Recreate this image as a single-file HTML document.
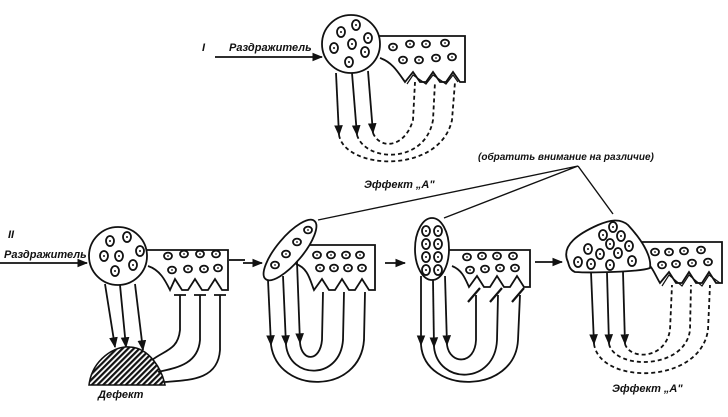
<!DOCTYPE html>
<html><head><meta charset="utf-8"><style>
html,body{margin:0;padding:0;background:#fff;width:728px;height:417px;overflow:hidden}
svg text{font-family:"Liberation Sans",sans-serif;font-style:italic;font-weight:bold;fill:#111}
</style></head><body>
<svg width="728" height="417" viewBox="0 0 728 417" xmlns="http://www.w3.org/2000/svg">
<defs>
<marker id="ar" viewBox="0 0 10 10" refX="9" refY="5" markerWidth="6" markerHeight="6" orient="auto"><path d="M0,1 L10,5 L0,9 z" fill="#111"/></marker>
<pattern id="hatch" width="4" height="4" patternUnits="userSpaceOnUse" patternTransform="rotate(45)"><rect width="4" height="4" fill="#fff"/><rect width="2.2" height="4" fill="#111"/></pattern>
<g id="cell"><ellipse cx="0" cy="0" rx="4" ry="3.4" fill="none" stroke="#111" stroke-width="1.8"/><circle r="0.9" fill="#111"/></g>
<g id="bcell"><ellipse cx="0" cy="0" rx="4" ry="5" fill="none" stroke="#111" stroke-width="1.8"/><circle r="1" fill="#111"/></g>
</defs>
<g fill="none" stroke="#111" stroke-width="1.8">

<!-- ===== I ===== -->
<line x1="215" y1="57" x2="322" y2="57" marker-end="url(#ar)"/>
<path d="M378,36 L465,36 L465,82 L460,82 L453,72 L446,82 L440,82 L433,72 L426,82 L420,82 L413,72 L405,82 C398,72 392,62 380,58"/>
<path d="M458,82 L453,75 L446,84 L433,75 L426,84 L413,75 L407,84" stroke-width="1.2"/>
<circle cx="351" cy="44" r="29" fill="#fff"/>
<line x1="336" y1="73" x2="339" y2="135" marker-end="url(#ar)"/>
<line x1="352" y1="73" x2="357" y2="135" marker-end="url(#ar)"/>
<line x1="368" y1="71" x2="373" y2="133" marker-end="url(#ar)"/>
<g stroke-dasharray="4,3">
<path d="M339,135 C345,170 440,175 452,120 L455,82"/>
<path d="M357,135 C365,162 425,165 433,120 L435,82"/>
<path d="M373,133 C380,150 405,148 413,120 L415,82"/>
</g>

<path d="M578,166 L318,220 M578,166 L444,218 M578,166 L613,214" stroke-width="1.4"/>

<!-- ===== II-1 ===== -->
<line x1="0" y1="263" x2="87" y2="263" marker-end="url(#ar)"/>
<path d="M145,250 L228,250 L228,290 L222,290 L215,279 L208,290 L202,290 L195,279 L188,290 L182,290 L175,279 L170,290 C165,280 160,270 148,266"/>
<line x1="229" y1="260" x2="245" y2="260"/>
<circle cx="118" cy="256" r="29" fill="#fff"/>
<line x1="105" y1="284" x2="115" y2="347" marker-end="url(#ar)"/>
<line x1="120" y1="285" x2="126" y2="347" marker-end="url(#ar)"/>
<line x1="135" y1="284" x2="143" y2="350" marker-end="url(#ar)"/>
<path d="M89,385 C92,360 115,345 130,347 C150,348 162,370 165,385 Z" fill="url(#hatch)" stroke-width="1.5"/>
<g stroke-width="1.8">
<path d="M180,295 L180,330 C178,350 165,350 152,360"/>
<path d="M200,295 L200,340 C198,365 175,368 158,372"/>
<path d="M220,295 L220,350 C218,380 190,380 165,382"/>
</g>
<path d="M174,295 L186,295 M194,295 L206,295 M214,295 L226,295"/>

<!-- ===== II-2 ===== -->
<line x1="243" y1="263" x2="262" y2="263" marker-end="url(#ar)"/>
<path d="M300,245 L375,245 L375,290 L369,290 L362,279 L355,290 L349,290 L342,279 L335,290 L329,290 L322,279 L314,290 C310,280 308,268 296,264"/>
<ellipse cx="290" cy="250" rx="38" ry="13" transform="rotate(-50 290 250)" fill="#fff"/>
<line x1="268" y1="280" x2="271" y2="345" marker-end="url(#ar)"/>
<line x1="283" y1="276" x2="286" y2="345" marker-end="url(#ar)"/>
<line x1="297" y1="262" x2="300" y2="343" marker-end="url(#ar)"/>
<g>
<path d="M271,345 C278,395 360,395 364,340 L365,292"/>
<path d="M286,345 C290,380 340,380 343,340 L344,292"/>
<path d="M300,343 C302,362 320,362 322,340 L323,292"/>
</g>
<line x1="385" y1="263" x2="405" y2="263" marker-end="url(#ar)"/>

<!-- ===== II-3 ===== -->
<path d="M448,250 L530,250 L530,287 L524,287 L517,276 L510,287 L504,287 L497,276 L490,287 L484,287 L477,276 L469,287 C465,278 462,270 452,266"/>
<ellipse cx="432" cy="249" rx="17" ry="31" fill="#fff"/>
<line x1="421" y1="276" x2="421" y2="345" marker-end="url(#ar)"/>
<line x1="433" y1="280" x2="434" y2="347" marker-end="url(#ar)"/>
<line x1="445" y1="276" x2="447" y2="345" marker-end="url(#ar)"/>
<g>
<path d="M421,345 C425,395 515,395 518,340 L520,295"/>
<path d="M434,347 C438,385 495,385 497,340 L498,295"/>
<path d="M447,345 C450,365 475,365 476,340 L476,295"/>
</g>
<path d="M468,302 L480,288 M490,302 L502,288 M512,302 L524,288" stroke-width="2.2"/>
<line x1="535" y1="262" x2="562" y2="262" marker-end="url(#ar)"/>

<!-- ===== II-4 ===== -->
<path d="M640,242 L722,242 L722,283 L716,283 L709,272 L702,283 L696,283 L689,272 L682,283 L676,283 L669,272 L660,283 C655,275 652,265 645,262"/>
<path d="M720,283 L709,275 L702,286 L689,275 L682,286 L669,275 L662,286" stroke-width="1.2"/>
<path d="M568,262 C560,245 580,233 598,225 C610,220 620,218 628,225 C640,238 652,255 650,268 C640,272 590,273 575,272 C570,270 569,266 568,262 Z" fill="#fff"/>
<line x1="591" y1="272" x2="594" y2="344" marker-end="url(#ar)"/>
<line x1="607" y1="273" x2="609" y2="344" marker-end="url(#ar)"/>
<line x1="623" y1="272" x2="625" y2="344" marker-end="url(#ar)"/>
<g stroke-dasharray="4,3">
<path d="M594,344 C600,385 700,385 708,330 L710,285"/>
<path d="M609,344 C615,370 685,370 690,330 L691,285"/>
<path d="M625,344 C630,360 665,360 670,330 L672,285"/>
</g>
</g>

<g>
<use href="#bcell" x="341" y="32"/><use href="#bcell" x="356" y="25"/><use href="#bcell" x="368" y="38"/>
<use href="#bcell" x="334" y="48"/><use href="#bcell" x="352" y="44"/><use href="#bcell" x="365" y="52"/><use href="#bcell" x="349" y="62"/>
<use href="#cell" x="393" y="47"/><use href="#cell" x="410" y="44"/><use href="#cell" x="426" y="44"/><use href="#cell" x="445" y="43"/>
<use href="#cell" x="403" y="60"/><use href="#cell" x="419" y="60"/><use href="#cell" x="436" y="58"/><use href="#cell" x="452" y="57"/>

<use href="#bcell" x="110" y="241"/><use href="#bcell" x="127" y="237"/><use href="#bcell" x="140" y="251"/>
<use href="#bcell" x="104" y="256"/><use href="#bcell" x="119" y="256"/><use href="#bcell" x="133" y="265"/><use href="#bcell" x="115" y="271"/>
<use href="#cell" x="168" y="256"/><use href="#cell" x="184" y="254"/><use href="#cell" x="200" y="254"/><use href="#cell" x="216" y="254"/>
<use href="#cell" x="172" y="270"/><use href="#cell" x="188" y="269"/><use href="#cell" x="204" y="269"/><use href="#cell" x="218" y="268"/>

<use href="#cell" x="275" y="265"/><use href="#cell" x="286" y="254"/><use href="#cell" x="297" y="242"/><use href="#cell" x="308" y="230"/>
<use href="#cell" x="317" y="255"/><use href="#cell" x="331" y="255"/><use href="#cell" x="346" y="255"/><use href="#cell" x="360" y="255"/>
<use href="#cell" x="320" y="268"/><use href="#cell" x="334" y="268"/><use href="#cell" x="348" y="268"/><use href="#cell" x="362" y="268"/>

<use href="#bcell" x="426" y="231"/><use href="#bcell" x="438" y="231"/><use href="#bcell" x="426" y="244"/><use href="#bcell" x="438" y="244"/>
<use href="#bcell" x="426" y="257"/><use href="#bcell" x="438" y="257"/><use href="#bcell" x="426" y="270"/><use href="#bcell" x="438" y="270"/>
<use href="#cell" x="467" y="257"/><use href="#cell" x="482" y="256"/><use href="#cell" x="497" y="256"/><use href="#cell" x="513" y="256"/>
<use href="#cell" x="470" y="270"/><use href="#cell" x="485" y="269"/><use href="#cell" x="500" y="268"/><use href="#cell" x="515" y="268"/>

<use href="#bcell" x="603" y="235"/><use href="#bcell" x="613" y="227"/><use href="#bcell" x="621" y="236"/><use href="#bcell" x="629" y="246"/>
<use href="#bcell" x="588" y="249"/><use href="#bcell" x="600" y="254"/><use href="#bcell" x="610" y="244"/><use href="#bcell" x="618" y="253"/>
<use href="#bcell" x="578" y="262"/><use href="#bcell" x="591" y="264"/><use href="#bcell" x="610" y="265"/><use href="#bcell" x="632" y="261"/>
<use href="#cell" x="655" y="252"/><use href="#cell" x="669" y="252"/><use href="#cell" x="684" y="251"/><use href="#cell" x="701" y="250"/>
<use href="#cell" x="662" y="265"/><use href="#cell" x="676" y="264"/><use href="#cell" x="692" y="263"/><use href="#cell" x="708" y="262"/>
</g>

<text x="202" y="51" font-size="11">I</text>
<text x="229" y="51" font-size="11">Раздражитель</text>
<text x="364" y="188" font-size="11">Эффект „А"</text>
<text x="478" y="160" font-size="10">(обратить внимание на различие)</text>
<text x="8" y="238" font-size="11">II</text>
<text x="4" y="258" font-size="11">Раздражитель</text>
<text x="98" y="398" font-size="11">Дефект</text>
<text x="612" y="392" font-size="11">Эффект „А"</text>
</svg>
</body></html>
